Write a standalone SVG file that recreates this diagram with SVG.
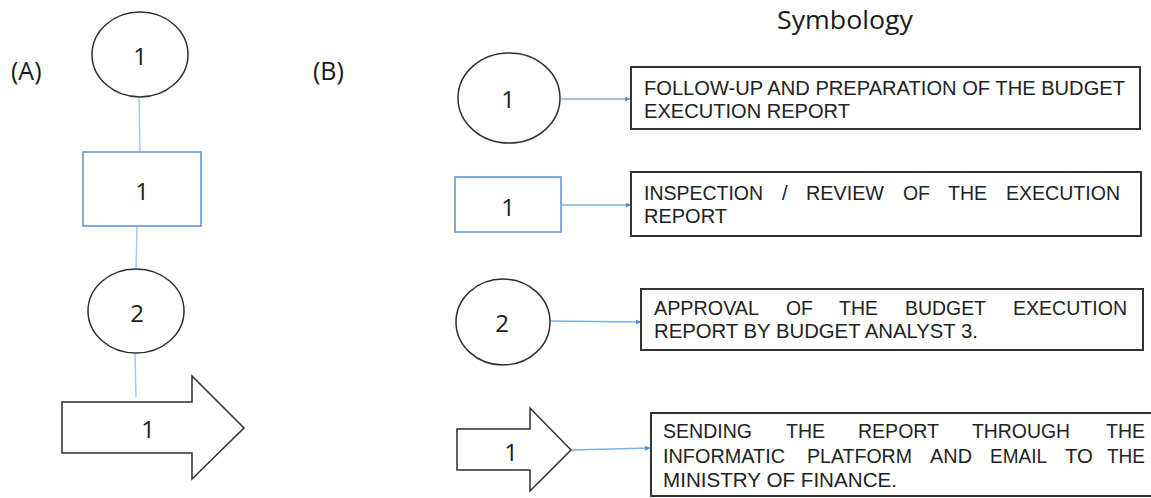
<svg xmlns="http://www.w3.org/2000/svg" width="1151" height="498" viewBox="0 0 1151 498">
  <defs>
    <style>
      .shape { fill: #ffffff; stroke: #2e2e2e; stroke-width: 1.5; }
      .bluebox { fill: #ffffff; stroke: #5b8fcc; stroke-width: 1.5; }
      .box { fill: #ffffff; stroke: #333333; stroke-width: 2; }
      .num { font-family: "Open Sans", "Liberation Sans", sans-serif; font-size: 24px; fill: #1a1a1a; text-anchor: middle; }
      .tag { font-family: "Open Sans", "Liberation Sans", sans-serif; font-size: 25px; fill: #1a1a1a; }
      .desc { font-family: "Liberation Sans", Arial, sans-serif; font-size: 20px; fill: #222222; }
      .link { stroke: #a9c8ea; stroke-width: 1.5; fill: none; }
      .ptr { stroke: #7fb0e3; stroke-width: 1.5; fill: none; marker-end: url(#head); }
    </style>
    <marker id="head" viewBox="0 0 10 10" refX="10" refY="5" markerWidth="5" markerHeight="5" orient="auto" markerUnits="userSpaceOnUse">
      <path d="M0,0 L10,5 L0,10 z" fill="#4a90d9"/>
    </marker>
  </defs>

  <!-- section labels -->
  <text class="tag" x="11" y="80">(A)</text>
  <text class="tag" x="313" y="80">(B)</text>
  <text class="tag" x="777" y="29" font-size="26" textLength="136" lengthAdjust="spacingAndGlyphs">Symbology</text>

  <!-- connectors -->
  <g id="connectors">
    <line class="link" x1="139" y1="97" x2="140" y2="152"/>
    <line class="link" x1="137" y1="226" x2="136" y2="269"/>
    <line class="link" x1="135" y1="353" x2="136" y2="397"/>
    <line class="ptr" x1="561" y1="99" x2="630" y2="99"/>
    <line class="ptr" x1="561" y1="205" x2="631" y2="205"/>
    <line class="ptr" x1="550" y1="321" x2="641" y2="322"/>
    <line class="ptr" x1="571" y1="450" x2="650" y2="448"/>
  </g>

  <!-- flow A -->
  <g id="a-start">
    <ellipse class="shape" cx="140" cy="54.5" rx="48" ry="42.5"/>
    <text class="num" x="140" y="65">1</text>
  </g>
  <g id="a-inspect">
    <rect class="bluebox" x="83" y="152" width="118" height="74"/>
    <text class="num" x="142" y="200">1</text>
  </g>
  <g id="a-approve">
    <ellipse class="shape" cx="136" cy="311" rx="48" ry="42"/>
    <text class="num" x="137" y="322">2</text>
  </g>
  <g id="a-send">
    <path class="shape" d="M62,402 H192 V376 L244,428 L192,479 V453 H62 Z"/>
    <text class="num" x="148" y="438">1</text>
  </g>

  <!-- symbology B -->
  <g id="b-operation">
    <ellipse class="shape" cx="509" cy="98" rx="51" ry="45"/>
    <text class="num" x="508" y="108">1</text>
  </g>
  <g id="b-operation-desc">
    <rect class="box" x="631" y="67" width="509" height="62"/>
    <text class="desc" x="644" y="95" textLength="481" lengthAdjust="spacingAndGlyphs">FOLLOW-UP AND PREPARATION OF THE BUDGET</text>
    <text class="desc" x="644" y="118" textLength="206" lengthAdjust="spacingAndGlyphs">EXECUTION REPORT</text>
  </g>

  <g id="b-inspection">
    <rect class="bluebox" x="455" y="177" width="106" height="55"/>
    <text class="num" x="508" y="216">1</text>
  </g>
  <g id="b-inspection-desc">
    <rect class="box" x="631" y="172" width="510" height="64"/>
    <!-- justified first line: one text per word -->
    <text class="desc" x="644" y="200" textLength="119" lengthAdjust="spacingAndGlyphs">INSPECTION</text>
    <text class="desc" x="782" y="200">/</text>
    <text class="desc" x="806" y="200" textLength="78" lengthAdjust="spacingAndGlyphs">REVIEW</text>
    <text class="desc" x="903" y="200" textLength="27" lengthAdjust="spacingAndGlyphs">OF</text>
    <text class="desc" x="948" y="200" textLength="39" lengthAdjust="spacingAndGlyphs">THE</text>
    <text class="desc" x="1006" y="200" textLength="114" lengthAdjust="spacingAndGlyphs">EXECUTION</text>
    <text class="desc" x="644" y="223">REPORT</text>
  </g>

  <g id="b-approval">
    <ellipse class="shape" cx="503" cy="322" rx="47" ry="43"/>
    <text class="num" x="502" y="332">2</text>
  </g>
  <g id="b-approval-desc">
    <rect class="box" x="641" y="289" width="502" height="61"/>
    <text class="desc" x="654" y="315" textLength="105" lengthAdjust="spacingAndGlyphs">APPROVAL</text>
    <text class="desc" x="786" y="315" textLength="27" lengthAdjust="spacingAndGlyphs">OF</text>
    <text class="desc" x="839" y="315" textLength="39" lengthAdjust="spacingAndGlyphs">THE</text>
    <text class="desc" x="905" y="315" textLength="81" lengthAdjust="spacingAndGlyphs">BUDGET</text>
    <text class="desc" x="1013" y="315" textLength="114" lengthAdjust="spacingAndGlyphs">EXECUTION</text>
    <text class="desc" x="654" y="338" textLength="324" lengthAdjust="spacingAndGlyphs">REPORT BY BUDGET ANALYST 3.</text>
  </g>

  <g id="b-sending">
    <path class="shape" d="M457,429 H530 V408 L571,450 L530,491 V470 H457 Z"/>
    <text class="num" x="511" y="461">1</text>
  </g>
  <g id="b-sending-desc">
    <rect class="box" x="651" y="413" width="510" height="83"/>
    <text class="desc" x="663" y="438" textLength="89" lengthAdjust="spacingAndGlyphs">SENDING</text>
    <text class="desc" x="786" y="438" textLength="39" lengthAdjust="spacingAndGlyphs">THE</text>
    <text class="desc" x="858" y="438" textLength="81" lengthAdjust="spacingAndGlyphs">REPORT</text>
    <text class="desc" x="972" y="438" textLength="98" lengthAdjust="spacingAndGlyphs">THROUGH</text>
    <text class="desc" x="1106" y="438" textLength="39" lengthAdjust="spacingAndGlyphs">THE</text>

    <text class="desc" x="663" y="463" textLength="122" lengthAdjust="spacingAndGlyphs">INFORMATIC</text>
    <text class="desc" x="807" y="463" textLength="105" lengthAdjust="spacingAndGlyphs">PLATFORM</text>
    <text class="desc" x="930" y="463" textLength="42" lengthAdjust="spacingAndGlyphs">AND</text>
    <text class="desc" x="990" y="463" textLength="57" lengthAdjust="spacingAndGlyphs">EMAIL</text>
    <text class="desc" x="1065" y="463" textLength="28" lengthAdjust="spacingAndGlyphs">TO</text>
    <text class="desc" x="1107" y="463" textLength="38" lengthAdjust="spacingAndGlyphs">THE</text>

    <text class="desc" x="663" y="487" textLength="234" lengthAdjust="spacingAndGlyphs">MINISTRY OF FINANCE.</text>
  </g>
</svg>
